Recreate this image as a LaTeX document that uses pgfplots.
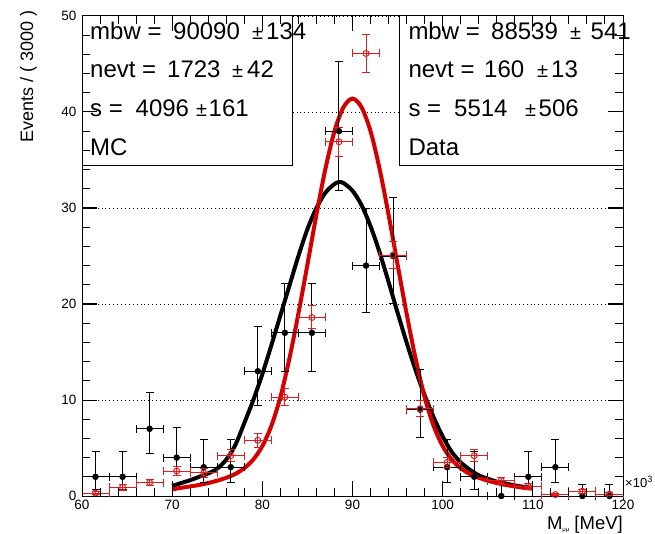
\documentclass[border=0pt]{standalone}
\usepackage{pgfplots}
\pgfplotsset{compat=1.18}
\usepackage{pgfplotstable}
\usepackage{fontspec}
\setmainfont{Liberation Sans}
\definecolor{rootred}{RGB}{212,0,0}
\definecolor{ptred}{RGB}{222,30,30}

% Data (black, Poisson errors)
\pgfplotstableread{
x y ex eyp eym
61.5 2 1.5 2.64 1.29
64.5 2 1.5 2.64 1.29
67.5 7 1.5 3.78 2.58
70.5 4 1.5 3.16 1.91
73.5 3 1.5 2.92 1.63
76.5 3 1.5 2.92 1.63
79.5 13 1.5 4.67 3.57
82.5 17 1.5 5.18 4.08
85.5 17 1.5 5.18 4.08
88.5 38 1.5 7.22 6.14
91.5 24 1.5 5.96 4.85
94.5 25 1.5 6.06 4.95
97.5 9 1.5 4.15 2.94
100.5 3 1.5 2.92 1.63
103.5 2 1.5 2.64 1.29
106.5 0 1.5 1.15 0
109.5 2 1.5 2.64 1.29
112.5 3 1.5 2.92 1.63
115.5 0 1.5 1.15 0
118.5 0 1.5 1.15 0
}\datatab

% MC (red, weighted)
\pgfplotstableread{
x y ex ey
61.5 0.3 1.5 0.16
64.5 0.9 1.5 0.35
67.5 1.4 1.5 0.35
70.5 2.6 1.5 0.45
73.5 2.4 1.5 0.45
76.5 4.2 1.5 0.6
79.5 5.8 1.5 0.7
82.5 10.3 1.5 0.85
85.5 18.6 1.5 1.2
88.5 36.9 1.5 1.5
91.5 46.1 1.5 2.0
94.5 25.1 1.5 1.45
97.5 9.1 1.5 0.85
100.5 3.5 1.5 0.55
103.5 4.2 1.5 0.6
106.5 1.6 1.5 0.37
109.5 1.0 1.5 0.3
112.5 0.15 1.5 0.11
115.5 0.5 1.5 0.21
118.5 0.2 1.5 0.13
}\mctab

\pgfplotstableread{
x y
70 1.05
71 1.35
72 1.65
73 2.0
74 2.35
75 2.85
76 3.8
77 5.3
78 7.6
79 10.0
80 12.7
81 15.7
82 18.8
83 21.9
84 25.0
85 27.8
86 30.0
87 31.6
88 32.5
88.5 32.7
89 32.6
90 31.8
91 30.3
92 28.1
93 25.4
94 22.3
95 19.1
96 16.0
97 13.1
98 10.5
99 8.2
100 6.2
101 4.6
102 3.5
103 2.75
104 2.15
105 1.8
106 1.5
107 1.3
108 1.1
109 0.95
110 0.85
}\datacurve

\pgfplotstableread{
x y
70 0.7
71 0.85
72 1.0
73 1.15
74 1.35
75 1.6
76 1.9
77 2.3
78 2.9
79 3.8
80 5.2
81 7.3
82 10.3
83 14.3
84 19.0
85 24.1
86 29.3
87 34.1
88 38.0
89 40.5
90 41.4
91 40.5
92 38.0
93 34.1
94 29.3
95 24.1
96 19.0
97 14.3
98 10.3
99 7.3
100 5.2
101 3.8
102 2.9
103 2.3
104 1.9
105 1.6
106 1.35
107 1.15
108 1.0
109 0.85
110 0.75
}\mccurve

\pgfplotsset{
  rootaxis/.style={
    at={(82pt,37pt)}, anchor=south west,
    scale only axis, width=541pt, height=480pt,
    xmin=60, xmax=120, ymin=0, ymax=50,
    xtick={60,70,...,120}, ytick={0,10,...,50},
    minor x tick num=4, minor y tick num=4,
    tick align=inside, major tick length=15pt, minor tick length=8pt,
    tick style={black, line width=1pt},
    axis line style={line width=1pt},
  },
}
\tikzset{bx/.style={anchor=base west, inner sep=0pt, font=\fontsize{24}{24}\selectfont},
  pm/.style={anchor=base west, inner sep=0pt, font=\fontsize{20}{20}\selectfont}}

\begin{document}
\begin{tikzpicture}
\useasboundingbox (0,0) rectangle (655pt,533pt);
\begin{axis}[rootaxis, clip=false,
  ymajorgrids,
  grid style={black, line width=0.8pt, dash pattern=on 0.9pt off 3pt},
  /pgf/number format/assume math mode=true,
  ticklabel style={font=\fontsize{13.5}{13.5}\selectfont},
  yticklabel style={xshift=-2pt},
  xticklabel style={yshift=-1pt},
]
\draw[line width=1pt, fill=white] (rel axis cs:0,0.6881) rectangle (rel axis cs:0.3882,1);
\draw[line width=1pt, fill=white] (rel axis cs:0.5865,0.6881) rectangle (rel axis cs:1,1);
\addplot[black, line width=4pt, smooth] table {\datacurve};
\addplot[rootred, line width=4pt, smooth] table {\mccurve};
% data: bars, caps, markers
\addplot[black, only marks, mark=*, mark size=3pt,
  error bars/.cd, x dir=both, x explicit, y dir=both, y explicit,
  error bar style={line width=1pt, black}, error mark=none]
  table[x=x, y=y, x error=ex, y error plus=eyp, y error minus=eym] {\datatab};
\addplot[black, only marks, mark=|, mark size=4pt, mark options={line width=1pt}]
  table[x expr=\thisrow{x}-\thisrow{ex}, y=y] {\datatab};
\addplot[black, only marks, mark=|, mark size=4pt, mark options={line width=1pt}]
  table[x expr=\thisrow{x}+\thisrow{ex}, y=y] {\datatab};
\addplot[black, only marks, mark=-, mark size=4pt, mark options={line width=1pt}]
  table[x=x, y expr=\thisrow{y}+\thisrow{eyp}] {\datatab};
\addplot[black, only marks, mark=-, mark size=4pt, mark options={line width=1pt}]
  table[x=x, y expr=\thisrow{y}-\thisrow{eym}] {\datatab};
% MC: bars, caps, markers
\addplot[ptred, only marks, mark=o, mark size=3pt, mark options={line width=1pt},
  error bars/.cd, x dir=both, x explicit, y dir=both, y explicit,
  error bar style={line width=1pt, ptred}, error mark=none]
  table[x=x, y=y, x error=ex, y error=ey] {\mctab};
\addplot[ptred, only marks, mark=|, mark size=4pt, mark options={line width=1pt}]
  table[x expr=\thisrow{x}-\thisrow{ex}, y=y] {\mctab};
\addplot[ptred, only marks, mark=|, mark size=4pt, mark options={line width=1pt}]
  table[x expr=\thisrow{x}+\thisrow{ex}, y=y] {\mctab};
\addplot[ptred, only marks, mark=-, mark size=4pt, mark options={line width=1pt}]
  table[x=x, y expr=\thisrow{y}+\thisrow{ey}] {\mctab};
\addplot[ptred, only marks, mark=-, mark size=4pt, mark options={line width=1pt}]
  table[x=x, y expr=\thisrow{y}-\thisrow{ey}] {\mctab};
\end{axis}
% tick marks on all four sides (drawn over the boxes)
\foreach \v in {60,62,...,120} {
  \draw[black, line width=1pt] ({82pt+(\v-60)*9.016667pt},37pt) -- ++(0pt,8pt);
  \draw[black, line width=1pt] ({82pt+(\v-60)*9.016667pt},517pt) -- ++(0pt,-8pt);
}
\foreach \v in {60,70,...,120} {
  \draw[black, line width=1pt] ({82pt+(\v-60)*9.016667pt},37pt) -- ++(0pt,15pt);
  \draw[black, line width=1pt] ({82pt+(\v-60)*9.016667pt},517pt) -- ++(0pt,-15pt);
}
\foreach \v in {0,2,...,50} {
  \draw[black, line width=1pt] (82pt,{37pt+\v*9.6pt}) -- ++(8pt,0pt);
  \draw[black, line width=1pt] (623pt,{37pt+\v*9.6pt}) -- ++(-8pt,0pt);
}
\foreach \v in {0,10,...,50} {
  \draw[black, line width=1pt] (82pt,{37pt+\v*9.6pt}) -- ++(15pt,0pt);
  \draw[black, line width=1pt] (623pt,{37pt+\v*9.6pt}) -- ++(-15pt,0pt);
}
% parameter texts
\node[bx] at (90pt,493.7pt) {mbw =};
\node[bx] at (173pt,493.7pt) {90090};
\node[pm] at (252pt,493.7pt) {±};
\node[bx] at (266pt,493.7pt) {134};
\node[bx] at (90pt,455pt) {nevt =};
\node[bx] at (167pt,455pt) {1723};
\node[pm] at (232pt,455pt) {±};
\node[bx] at (247pt,455pt) {42};
\node[bx] at (90pt,416pt) {s =};
\node[bx] at (135.5pt,416pt) {4096};
\node[pm] at (196pt,416pt) {±};
\node[bx] at (208.5pt,416pt) {161};
\node[bx] at (90pt,377pt) {MC};
\node[bx] at (408.3pt,493.7pt) {mbw =};
\node[bx] at (491pt,493.7pt) {88539};
\node[pm] at (570pt,493.7pt) {±};
\node[bx] at (590.5pt,493.7pt) {541};
\node[bx] at (408.3pt,455pt) {nevt =};
\node[bx] at (484pt,455pt) {160};
\node[pm] at (537pt,455pt) {±};
\node[bx] at (551pt,455pt) {13};
\node[bx] at (408.3pt,416pt) {s =};
\node[bx] at (454pt,416pt) {5514};
\node[pm] at (525pt,416pt) {±};
\node[bx] at (538.5pt,416pt) {506};
\node[bx] at (408.3pt,377pt) {Data};
% axis titles
\node[anchor=base east, inner sep=0pt, rotate=90, font=\fontsize{18}{18}\selectfont] at (33pt,523pt) {Events / ( 3000 )};
\node[anchor=base east, inner sep=0pt, font=\fontsize{18.5}{18.5}\selectfont] at (623pt,3.5pt) {M\raisebox{-2pt}{\fontsize{6}{6}\selectfont μμ} [MeV]};
\node[anchor=base west, inner sep=0pt, font=\fontsize{13}{13}\selectfont] at (625pt,46pt) {×10\textsuperscript{3}};
\end{tikzpicture}
\end{document}
